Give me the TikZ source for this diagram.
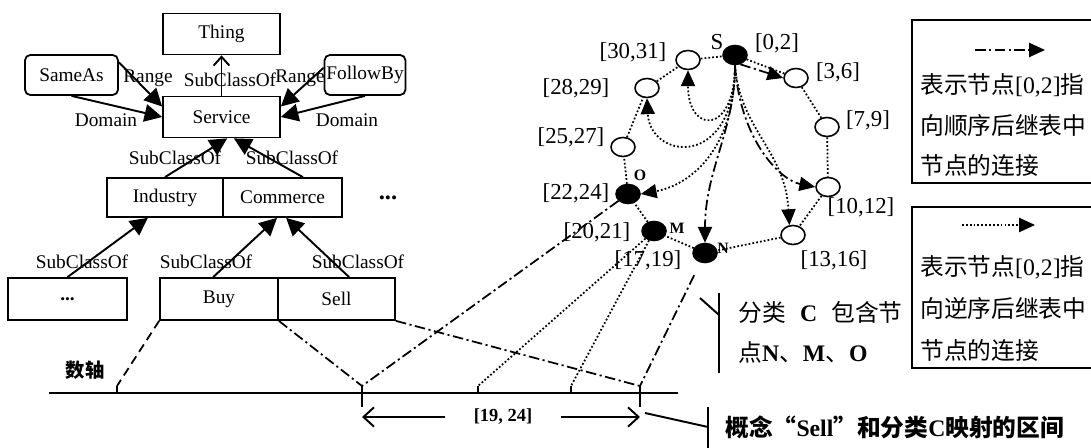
\documentclass[tikz,border=0pt]{standalone}
\usepackage{fontspec}
\setmainfont{Liberation Serif}
\newfontfamily\cjk{Noto Sans CJK SC}
\usetikzlibrary{arrows.meta,shapes.geometric}

\tikzset{
	cls/.style={draw, line width=1pt, minimum width=2.34cm, minimum height=0.82cm, inner sep=1pt, font=\fontsize{11}{12}\selectfont},
	prop/.style={cls, rounded corners=3pt, minimum width=1.86cm, minimum height=0.8cm},
	rel/.style={line width=1.1pt, -{Triangle[length=10pt,width=10pt]}},
	lbl/.style={font=\fontsize{11}{12}\selectfont, inner sep=0pt},
	ring/.style={draw, line width=0.9pt, ellipse, minimum width=0.48cm, minimum height=0.38cm, inner sep=0pt},
	hit/.style={ring, fill=black},
	ivl/.style={font=\fontsize{13}{14}\selectfont, inner sep=0pt},
	tag/.style={font=\bfseries\fontsize{9}{10}\selectfont, inner sep=0pt},
	seq/.style={line width=1pt, dash pattern=on 6pt off 2pt on 1.2pt off 2pt},
	rev/.style={line width=1pt, dash pattern=on 1pt off 1.2pt},
	tri/.style={-{Triangle[length=9pt,width=8pt]}},
	note/.style={font=\cjk\fontsize{13.5}{15}\selectfont, inner sep=0pt, anchor=west},
}

\begin{document}
\begin{tikzpicture}[x=0.02cm, y=-0.02cm]
			%%%%% START %%%%%
			\useasboundingbox (0,0) rectangle (1091,448);
			
			\node[cls] (thing) at (221.5,34) {Thing};
			\node[prop] (sameas) at (71.5,75) {SameAs};
			\node[prop, minimum width=1.54cm] (follow) at (365,75) {FollowBy};
			\node[cls] (service) at (221.5,117) {Service};
			
			\draw[line width=1.1pt, -{Straight Barb[length=5pt,width=9pt]}] (service) -- (thing);
			\node[lbl] (l1) at (230,80) {SubClassOf};
			\draw[rel] (sameas.south) -- (service.west);
			\draw[rel] (sameas.15) -- (service.170);
			\draw[rel] (follow.south) -- (service.east);
			\draw[rel] (follow.170) -- (service.10);
			\node[lbl] (l2) at (148,78) {Range};
			\node[lbl] (l3) at (106,120) {Domain};
			\node[lbl] (l4) at (300,78) {Range};
			\node[lbl] (l5) at (347,120) {Domain};
			
			\node[cls, minimum width=2.32cm, minimum height=0.78cm] (industry) at (165,197.5) {Industry};
			\node[cls, minimum width=2.38cm, minimum height=0.78cm] (commerce) at (282.5,197.5) {Commerce};
			\node[lbl, font=\bfseries\fontsize{14}{14}\selectfont] (more) at (388,198) {...};
			\draw[rel] (industry.north) -- (service.-75);
			\draw[rel] (commerce.45) -- (service.-60);
			\node[lbl] (l6) at (175,158) {SubClassOf};
			\node[lbl] (l7) at (292,158) {SubClassOf};
			
			\node[cls, minimum width=2.38cm, minimum height=0.84cm] (rest) at (67.5,299) {\textbf{...}};
			\node[cls, minimum width=2.36cm, minimum height=0.84cm] (buy) at (219,299) {Buy};
			\node[cls, minimum width=2.34cm, minimum height=0.84cm] (sell) at (336.5,299) {Sell};
			\draw[rel] (rest.north) -- (industry.-130);
			\draw[rel] (buy.105) -- (commerce.-105);
			\draw[rel] (sell.60) -- (commerce.-80);
			\node[lbl] (l8) at (82,262) {SubClassOf};
			\node[lbl] (l9) at (206,262) {SubClassOf};
			\node[lbl] (l10) at (358,262) {SubClassOf};
			
			% axis
			\node[font=\cjk\bfseries\fontsize{11}{12}\selectfont] (axis) at (85,370) {数轴};
			\draw[line width=1.1pt] (49,393) -- (678,393);
			\coordinate (t1) at (117,386);
			\coordinate (t2) at (362,386);
			\coordinate (t3) at (478,386);
			\coordinate (t4) at (571,386);
			\coordinate (t5) at (640,386);
			\draw[line width=1.1pt] (t1) -- ++(0,7);
			\draw[line width=1.1pt] (t2) -- ++(0,21);
			\draw[line width=1.1pt] (t3) -- ++(0,7);
			\draw[line width=1.1pt] (t4) -- ++(0,7);
			\draw[line width=1.1pt] (t5) -- ++(0,21);
			\node[font=\bfseries\fontsize{10.5}{12}\selectfont] (span) at (503,417) {[19, 24]};
			\draw[line width=1.1pt, -{Straight Barb[length=6pt,width=11pt]}, shorten <=0.45cm] (span.west) -- (t2 |- span);
			\draw[line width=1.1pt, -{Straight Barb[length=6pt,width=11pt]}, shorten <=0.45cm] (span.east) -- (t5 |- span);
			
			% ring
			\node[hit] (S) at (735,55) {};
			\node[ring] (r3) at (796,78) {};
			\node[ring] (r7) at (827,127) {};
			\node[ring] (r10) at (828,187) {};
			\node[ring] (r13) at (793,235) {};
			\node[hit] (N) at (705,253) {};
			\node[hit] (M) at (654,231) {};
			\node[hit] (O) at (628,194) {};
			\node[ring] (r25) at (623,147) {};
			\node[ring] (r28) at (647,88) {};
			\node[ring] (r30) at (688,60) {};
			\draw[rev] (S) -- (r3) -- (r7) -- (r10) -- (r13) -- (N) -- (M) -- (O) -- (r25) -- (r28) -- (r30) -- (S);
			
			\node[ivl] at (717,42) {S};
			\node[ivl] at (777,43) {[0,2]};
			\node[ivl] at (633,52) {[30,31]};
			\node[ivl] at (838,72) {[3,6]};
			\node[ivl] at (576,88) {[28,29]};
			\node[ivl] at (868,120) {[7,9]};
			\node[ivl] at (571,137) {[25,27]};
			\node[ivl] at (576,193) {[22,24]};
			\node[tag] at (640,175) {O};
			\node[ivl] at (861,207) {[10,12]};
			\node[ivl] at (597,232) {[20,21]};
			\node[tag] at (677,228) {M};
			\node[ivl] at (834,260) {[13,16]};
			\node[ivl] at (648,260) {[17,19]};
			\node[tag] at (723,248) {N};
			
			\draw[rev, tri] (S.south) .. controls (735,135) and (688,135) .. (r30.south);
			\draw[rev, tri] (S.south) .. controls (735,170) and (650,160) .. (r28.south);
			\draw[rev, tri] (S.south) .. controls (735,150) and (690,185) .. (O.east);
			\draw[rev, tri] (S.south) .. controls (740,130) and (785,150) .. (r13.110);
			\draw[seq, tri] (S.-60) -- (r3.west);
			\draw[seq, tri] (S.south) .. controls (740,140) and (780,180) .. (r10.west);
			\draw[seq, tri] (S.south) .. controls (735,130) and (705,170) .. (N.north);
			
			% mapping
			\draw[line width=1pt, dash pattern=on 5pt off 3pt] (buy.south west) -- (t1);
			\draw[seq] (buy.south east) -- (t2);
			\draw[seq] (sell.south east) -- (t5);
			\draw[seq] (O) -- (t2);
			\draw[rev] (M) -- (t3);
			\draw[rev] (M) -- (t4);
			\draw[seq, shorten <=0.28cm] (N) -- (t5);
			
			% notes
			\draw[line width=1.1pt] (700,298) -- (719,315);
			\draw[line width=1.1pt] (719,293) -- (719,373);
			\node[note] (c1) at (738,312) {分类\hspace{0.6em}{\rmfamily\bfseries C}\hspace{0.6em}包含节};
			\node[note] (c2) at (738,352) {点{\rmfamily\bfseries N}、{\rmfamily\bfseries M}、{\rmfamily\bfseries O}};
			\draw[line width=1.1pt] (645,413) -- (708,427);
			\draw[line width=1.1pt] (708,407) -- (708,450);
			\node[note, font=\cjk\bfseries\fontsize{13.5}{15}\selectfont] (c3) at (725,427) {概念“{\rmfamily Sell}”和分类{\rmfamily C}映射的区间};
			
			% legend
			\draw[line width=1.1pt] (1100,20) -- (912,20) -- (912,183) -- (1100,183);
			\coordinate (k1) at (975,50);
			\coordinate (k2) at (1045,50);
			\draw[seq, tri] (k1) -- (k2);
			\node[note] (n1) at (920,85) {表示节点{\rmfamily [0,2]}指};
			\node[note] (n2) at (920,125) {向顺序后继表中};
			\node[note] (n3) at (920,165) {节点的连接};
			\draw[line width=1.1pt] (1100,207) -- (912,207) -- (912,368) -- (1100,368);
			\coordinate (k3) at (962,225);
			\coordinate (k4) at (1035,225);
			\draw[rev, tri] (k3) -- (k4);
			\node[note] (n4) at (920,267) {表示节点{\rmfamily [0,2]}指};
			\node[note] (n5) at (920,308) {向逆序后继表中};
			\node[note] (n6) at (920,350) {节点的连接};
			
			%%%%% END %%%%%
\end{tikzpicture}
\end{document}
